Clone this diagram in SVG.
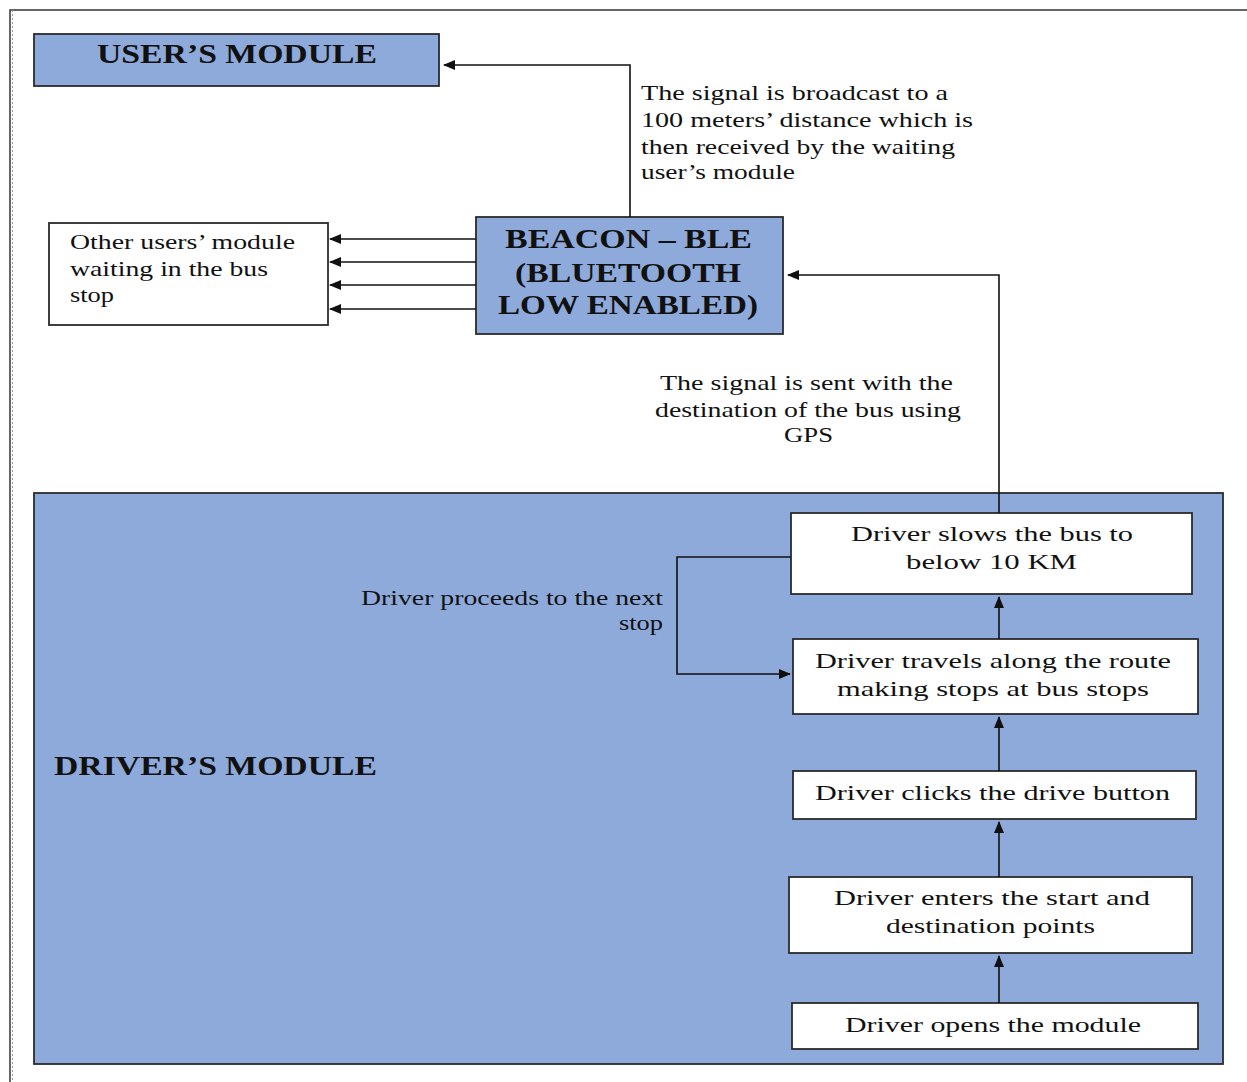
<svg xmlns="http://www.w3.org/2000/svg" width="1247" height="1082" viewBox="0 0 1247 1082">
<style>
.blue{fill:#8eaadb;stroke:#2b2b2b;stroke-width:1.8}
.white{fill:#ffffff;stroke:#2b2b2b;stroke-width:1.8}
.t{font-family:"Liberation Serif","Times New Roman",serif;font-size:22px;fill:#111}
.b{font-family:"Liberation Serif","Times New Roman",serif;font-size:27px;font-weight:bold;fill:#111}
.ln{fill:none;stroke:#111;stroke-width:1.6}
</style>
<defs>
<marker id="arr" viewBox="0 0 12 10" refX="11" refY="5" markerWidth="12" markerHeight="10" markerUnits="userSpaceOnUse" orient="auto">
<path d="M0,0 L12,5 L0,10 z" fill="#111"/>
</marker>
</defs>
<rect width="1247" height="1082" fill="#ffffff"/>
<g id="page-border">
<path d="M10,1082 L10,10 L1247,10" fill="none" stroke="#333" stroke-width="1.5"/>
<line x1="12.5" y1="10" x2="12.5" y2="1082" stroke="#999" stroke-width="1" stroke-dasharray="2,2"/>
</g>
<g id="drivers-module">
<rect class="blue" x="34" y="493" width="1189" height="571"/>
<text class="b" x="54" y="775" textLength="323" lengthAdjust="spacingAndGlyphs">DRIVER’S MODULE</text>
</g>
<g id="users-module">
<rect class="blue" x="34" y="34" width="405" height="52"/>
<text class="b" x="97" y="63" textLength="280" lengthAdjust="spacingAndGlyphs">USER’S MODULE</text>
</g>
<g id="beacon">
<rect class="blue" x="476" y="217" width="307" height="117"/>
<text class="b" x="505" y="248" textLength="247" lengthAdjust="spacingAndGlyphs">BEACON – BLE</text>
<text class="b" x="515" y="282" textLength="226" lengthAdjust="spacingAndGlyphs">(BLUETOOTH</text>
<text class="b" x="498" y="314" textLength="260" lengthAdjust="spacingAndGlyphs">LOW ENABLED)</text>
</g>
<g id="other-users">
<rect class="white" x="49" y="223" width="279" height="102"/>
<text class="t" x="70" y="249" textLength="225" lengthAdjust="spacingAndGlyphs">Other users’ module</text>
<text class="t" x="70" y="276" textLength="198" lengthAdjust="spacingAndGlyphs">waiting in the bus</text>
<text class="t" x="70" y="302" textLength="44" lengthAdjust="spacingAndGlyphs">stop</text>
</g>
<g id="slows">
<rect class="white" x="791" y="513" width="401" height="81"/>
<text class="t" x="851" y="541" textLength="282" lengthAdjust="spacingAndGlyphs">Driver slows the bus to</text>
<text class="t" x="906" y="569" textLength="171" lengthAdjust="spacingAndGlyphs">below 10 KM</text>
</g>
<g id="travels">
<rect class="white" x="793" y="639" width="405" height="75"/>
<text class="t" x="815" y="668" textLength="356" lengthAdjust="spacingAndGlyphs">Driver travels along the route</text>
<text class="t" x="837" y="696" textLength="312" lengthAdjust="spacingAndGlyphs">making stops at bus stops</text>
</g>
<g id="clicks">
<rect class="white" x="793" y="771" width="403" height="48"/>
<text class="t" x="815" y="800" textLength="355" lengthAdjust="spacingAndGlyphs">Driver clicks the drive button</text>
</g>
<g id="enters">
<rect class="white" x="789" y="877" width="403" height="76"/>
<text class="t" x="834" y="905" textLength="316" lengthAdjust="spacingAndGlyphs">Driver enters the start and</text>
<text class="t" x="886" y="933" textLength="209" lengthAdjust="spacingAndGlyphs">destination points</text>
</g>
<g id="opens">
<rect class="white" x="792" y="1003" width="406" height="46"/>
<text class="t" x="845" y="1032" textLength="296" lengthAdjust="spacingAndGlyphs">Driver opens the module</text>
</g>
<g id="connectors">
<path class="ln" d="M630,217 L630,65 L444,65" marker-end="url(#arr)"/>
<path class="ln" d="M476,239 L330,239" marker-end="url(#arr)"/>
<path class="ln" d="M476,262 L330,262" marker-end="url(#arr)"/>
<path class="ln" d="M476,285 L330,285" marker-end="url(#arr)"/>
<path class="ln" d="M476,309 L330,309" marker-end="url(#arr)"/>
<path class="ln" d="M999,513 L999,275 L788,275" marker-end="url(#arr)"/>
<path class="ln" d="M999,639 L999,597" marker-end="url(#arr)"/>
<path class="ln" d="M791,557 L677,557 L677,674 L790,674" marker-end="url(#arr)"/>
<path class="ln" d="M999,771 L999,717" marker-end="url(#arr)"/>
<path class="ln" d="M999,877 L999,822" marker-end="url(#arr)"/>
<path class="ln" d="M999,1003 L999,956" marker-end="url(#arr)"/>
</g>
<g id="labels">
<text class="t" x="641" y="100" textLength="307" lengthAdjust="spacingAndGlyphs">The signal is broadcast to a</text>
<text class="t" x="641" y="127" textLength="332" lengthAdjust="spacingAndGlyphs">100 meters’ distance which is</text>
<text class="t" x="641" y="154" textLength="314" lengthAdjust="spacingAndGlyphs">then received by the waiting</text>
<text class="t" x="641" y="179" textLength="154" lengthAdjust="spacingAndGlyphs">user’s module</text>
<text class="t" x="660" y="390" textLength="293" lengthAdjust="spacingAndGlyphs">The signal is sent with the</text>
<text class="t" x="655" y="417" textLength="306" lengthAdjust="spacingAndGlyphs">destination of the bus using</text>
<text class="t" x="784" y="442" textLength="49" lengthAdjust="spacingAndGlyphs">GPS</text>
<text class="t" x="361" y="605" textLength="302" lengthAdjust="spacingAndGlyphs">Driver proceeds to the next</text>
<text class="t" x="619" y="630" textLength="44" lengthAdjust="spacingAndGlyphs">stop</text>
</g>
</svg>
